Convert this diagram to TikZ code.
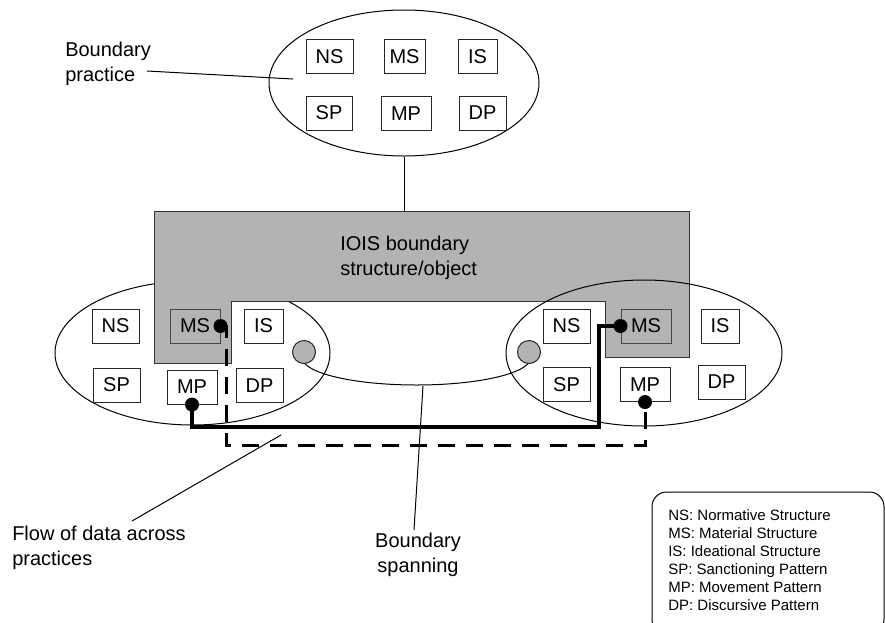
\documentclass[tikz,border=0pt]{standalone}
\usepackage{fontspec}
\setmainfont{Liberation Sans}
\usetikzlibrary{shapes.geometric}
\definecolor{boxgray}{RGB}{179,179,179}
\definecolor{edgegray}{RGB}{70,70,70}
\begin{document}
\begin{tikzpicture}[x=0.75pt,y=-0.75pt,
  bx/.style={draw=black!85, fill=white, line width=0.75pt, minimum height=25.5pt, inner sep=0pt, font=\fontsize{15}{18}\selectfont},
  gbx/.style={bx, fill=boxgray, draw=edgegray},
  practice/.style={draw, ellipse, line width=0.75pt, inner sep=0pt},
  lbl/.style={font=\fontsize{15}{18.5}\selectfont, inner sep=0pt, align=left},
  thinline/.style={line width=0.75pt},
  flow/.style={line width=2.5pt},
  dflow/.style={line width=2.25pt, dash pattern=on 12.75pt off 8.25pt},
  dot/.style={circle, fill=black, inner sep=0pt, minimum size=10.5pt},
  spot/.style={circle, draw=black!85, fill=boxgray, inner sep=0pt, minimum size=17.25pt, line width=0.75pt}
]
\useasboundingbox (0,0) rectangle (885,622);

% left practice (beneath the boundary object)
\node[practice, minimum width=206.25pt, minimum height=108pt] (leftE) at (192.5,353) {};

% IOIS boundary structure/object
\fill[boxgray, draw=black!80, line width=0.75pt] (154,211) -- (689,211) -- (689,357) -- (605,357) -- (605,301) -- (231,301) -- (231,363) -- (154,363) -- cycle;

% right practice and top practice
\node[practice, minimum width=207pt, minimum height=109.5pt] (rightE) at (644,353) {};
\node[practice, minimum width=202.5pt, minimum height=109.5pt] (topE) at (404,83) {};

% boundary spanning
\draw[thinline] (302.5,358) arc[start angle=180, end angle=0, x radius=114, y radius=27];
\node[spot] (spotL) at (304,352) {};
\node[spot] (spotR) at (529,352) {};

% top boxes
\node[bx, minimum width=35.25pt] (tNS) at (329.5,56.5) {NS};
\node[bx, minimum width=30.75pt] (tMS) at (404.5,56.5) {MS};
\node[bx, minimum width=29.25pt] (tIS) at (477.5,56.5) {IS};
\node[bx, minimum width=34.5pt] (tSP) at (329,113) {SP};
\node[bx, minimum width=37.5pt] (tMP) at (406,113.5) {MP};
\node[bx, minimum width=35.25pt] (tDP) at (482.5,113) {DP};

% left boxes
\node[bx, minimum width=35.25pt] (lNS) at (115.5,326) {NS};
\node[gbx, minimum width=37.5pt] (lMS) at (195,326) {MS};
\node[bx, minimum width=29.25pt] (lIS) at (263.5,326) {IS};
\node[bx, minimum width=35.25pt] (lSP) at (116.5,385) {SP};
\node[bx, minimum width=37.5pt] (lMP) at (192,387) {MP};
\node[bx, minimum width=35.25pt] (lDP) at (259.5,385.5) {DP};

% right boxes
\node[bx, minimum width=35.25pt] (rNS) at (566.5,326) {NS};
\node[gbx, minimum width=37.5pt] (rMS) at (646,326) {MS};
\node[bx, minimum width=28.5pt] (rIS) at (720,326) {IS};
\node[bx, minimum width=35.25pt] (rSP) at (566.5,384.5) {SP};
\node[bx, minimum width=37.5pt] (rMP) at (645,384.5) {MP};
\node[bx, minimum width=35.25pt] (rDP) at (721.5,382) {DP};

% link top practice to boundary object
\coordinate (grayTop) at (404,211);
\draw[thinline] (topE.south) -- (grayTop);

% data flows
\coordinate (sTurn) at (599,427);
\draw[flow] (lMP.south) |- (sTurn) |- (rMS.west);
\coordinate (dTurn) at (226,445);
\draw[dflow] (lMS.east) -| (dTurn) -| (rMP.south);
\node[dot] (dotA) at (lMP.south) {};
\node[dot] (dotB) at (rMS.west) {};
\node[dot] (dotC) at (lMS.east) {};
\node[dot] (dotD) at (rMP.south) {};

% labels
\node[lbl, anchor=west] (bpL) at (65,64) {Boundary\\practice};
\coordinate (bpStart) at (147,71);
\coordinate (bpEnd) at (293,79);
\draw[thinline] (bpStart) -- (bpEnd);

\node[lbl, anchor=west] (ioisL) at (340,257.5) {IOIS boundary\\structure/object};

\node[lbl, anchor=west] (flowL) at (12,547.5) {Flow of data across\\practices};
\coordinate (flowStart) at (132,521);
\coordinate (flowEnd) at (281,435);
\draw[thinline] (flowStart) -- (flowEnd);

\node[lbl, align=center] (spanL) at (418,555) {Boundary\\spanning};
\coordinate (spanTop) at (423,386);
\coordinate (spanBot) at (414,530);
\draw[thinline] (spanTop) -- (spanBot);

% legend
\draw[thinline, rounded corners=11pt] (652,492) rectangle (884,634);
\node[font=\fontsize{11.25}{13.5}\selectfont, align=left, anchor=west, inner sep=0pt] (legT) at (668,560)
  {NS: Normative Structure\\MS: Material Structure\\IS: Ideational Structure\\SP: Sanctioning Pattern\\MP: Movement Pattern\\DP: Discursive Pattern};
\end{tikzpicture}
\end{document}
